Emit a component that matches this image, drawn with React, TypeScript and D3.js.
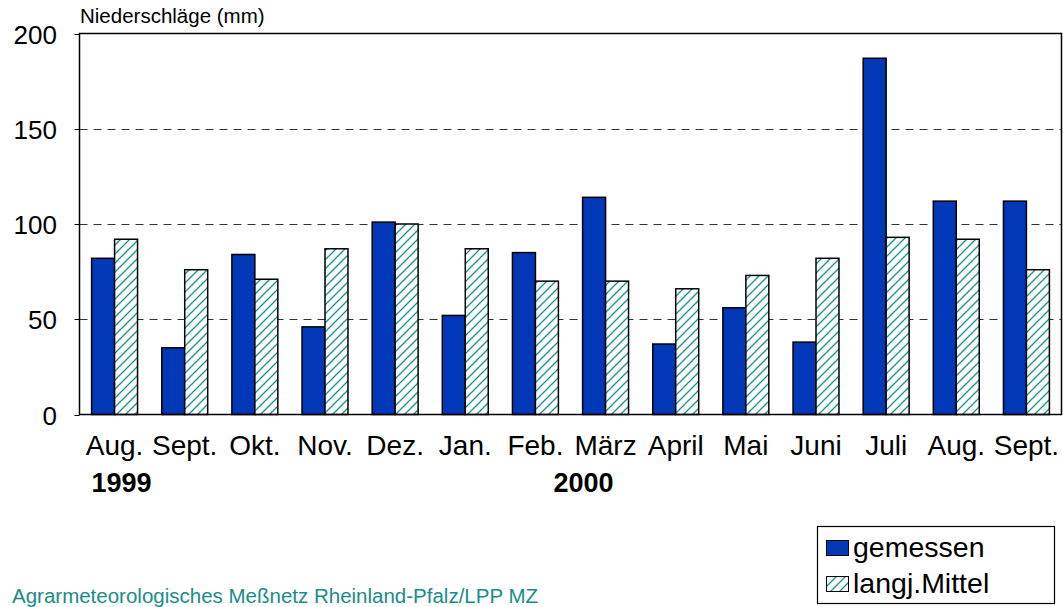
import React from "react";
import * as d3 from "d3";

const categories = ["Aug.", "Sept.", "Okt.", "Nov.", "Dez.", "Jan.", "Feb.", "März", "April", "Mai", "Juni", "Juli", "Aug.", "Sept."];
const gemessen = [82, 35, 84, 46, 101, 52, 85, 114, 37, 56, 38, 187, 112, 112];
const mittel = [92, 76, 71, 87, 100, 87, 70, 70, 66, 73, 82, 93, 92, 76];
const yTicks = [0, 50, 100, 150, 200];
const gridTicks = [50, 100, 150];
const years = ["1999", "2000"];
const yearIdx = [0, 7];
const seriesNames = ["gemessen", "langj.Mittel"];

const W = 1063, H = 607;
const left = 79.5, right = 1061.5, top = 33.5, bottom = 414.5;
const BLUE = "#0038b8";
const TEAL = "#12968f";
const FONT = "'Liberation Sans', Arial, Helvetica, sans-serif";
const yearOffsets = [7, -22];

export default function App() {
  const x = d3.scaleBand<number>().domain(d3.range(categories.length)).range([left, right]).paddingInner(0.345).paddingOuter(0.1725);
  const inner = d3.scaleBand<number>().domain([0, 1]).range([0, x.bandwidth()]);
  const y = d3.scaleLinear().domain([0, 200]).range([bottom, top]);
  const series = [gemessen, mittel];
  const cx = (i: number) => (x(i) as number) + x.bandwidth() / 2;

  return (
    <svg width={W} height={H} style={{ position: "absolute", left: 0, top: 0, background: "#fff" }} fontFamily={FONT}>
      <defs>
        <pattern id="hatch" patternUnits="userSpaceOnUse" width="9" height="9">
          <rect width="9" height="9" fill="#fff" />
          <path d="M-2,11 L11,-2 M-2,2 L2,-2 M7,11 L11,7" stroke={TEAL} strokeWidth="1.3" />
        </pattern>
      </defs>
      <rect x={0} y={0} width={W} height={H} fill="#fff" />
      {gridTicks.map((t) => (
        <line key={t} x1={left} x2={right} y1={Math.round(y(t)) + 0.5} y2={Math.round(y(t)) + 0.5} stroke="#333" strokeWidth={1} strokeDasharray="8,6" />
      ))}
      {yTicks.map((t) => (
        <g key={t}>
          <line x1={left - 5} x2={left} y1={Math.round(y(t)) + 0.5} y2={Math.round(y(t)) + 0.5} stroke="#000" />
          <text x={57} y={y(t) + 10} textAnchor="end" fontSize={26} fill="#000">{t}</text>
        </g>
      ))}
      {categories.map((c, i) =>
        series.map((s, j) => {
          const bx = (x(i) as number) + (inner(j) as number);
          return (
            <rect key={`${i}-${j}`} x={bx} y={y(s[i])} width={inner.bandwidth()} height={bottom - y(s[i])}
              fill={j === 0 ? BLUE : "url(#hatch)"} stroke="#000" strokeWidth={1.5} />
          );
        })
      )}
      <rect x={left} y={top} width={right - left} height={bottom - top} fill="none" stroke="#000" strokeWidth={1.5} />
      <text x={80} y={23} fontSize={20.5} fill="#000">Niederschläge (mm)</text>
      {categories.map((c, i) => (
        <text key={i} x={cx(i)} y={455} textAnchor="middle" fontSize={28} fill="#000">{c}</text>
      ))}
      {years.map((yr, k) => (
        <text key={yr} x={cx(yearIdx[k]) + yearOffsets[k]} y={492} textAnchor="middle" fontSize={27} fontWeight="bold" fill="#000">{yr}</text>
      ))}
      <g>
        <rect x={817.5} y={526.5} width={237} height={77} fill="#fff" stroke="#000" strokeWidth={1.2} />
        <rect x={826.5} y={540.5} width={22} height={15} fill={BLUE} stroke="#000" strokeWidth={1} />
        <text x={853} y={557} fontSize={28.5} fill="#000">{seriesNames[0]}</text>
        <rect x={826.5} y={576.5} width={22} height={15} fill="url(#hatch)" stroke="#000" strokeWidth={1} />
        <text x={853} y={593} fontSize={28.5} fill="#000">{seriesNames[1]}</text>
      </g>
      <text x={12} y={603} fontSize={20.5} fill="#1a8c88">Agrarmeteorologisches Meßnetz Rheinland-Pfalz/LPP MZ</text>
    </svg>
  );
}
